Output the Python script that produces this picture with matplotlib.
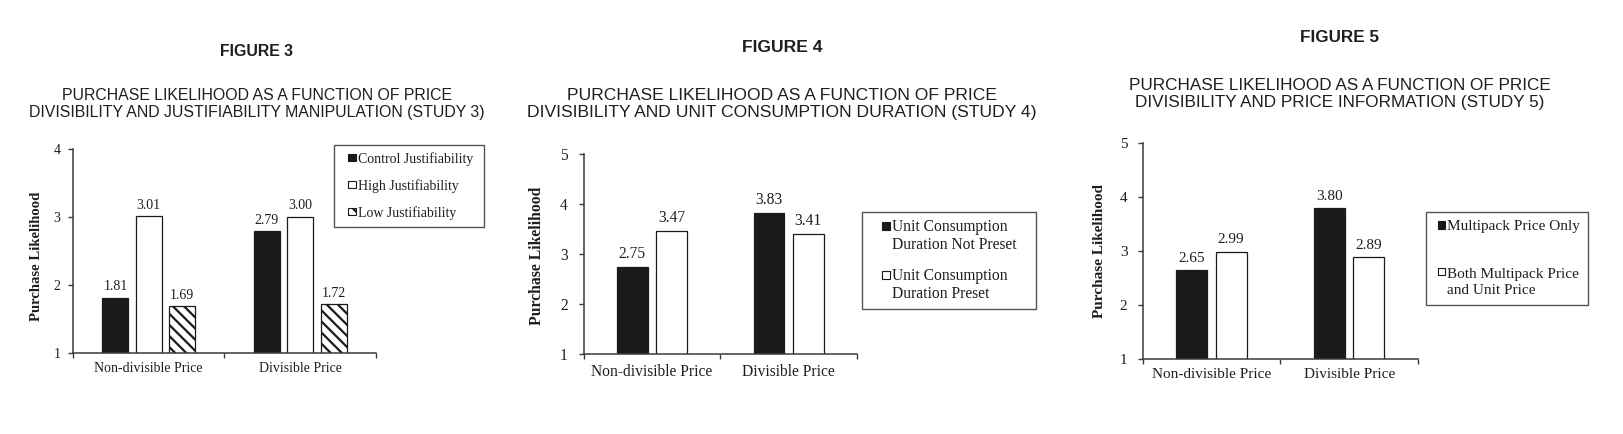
import matplotlib
matplotlib.use("Agg")
import matplotlib.pyplot as plt
from matplotlib.patches import Patch, Rectangle
from matplotlib.legend_handler import HandlerPatch
import numpy as np

W, H = 1624, 434
DPI = 100

# ---------------- data ----------------
categories = ["Non-divisible Price", "Divisible Price"]

fig3_series = ["Control Justifiability", "High Justifiability", "Low Justifiability"]
fig3_control = [1.81, 2.79]
fig3_high = [3.01, 3.00]
fig3_low = [1.69, 1.72]

fig4_series = ["Unit Consumption\nDuration Not Preset", "Unit Consumption\nDuration Preset"]
fig4_not_preset = [2.75, 3.83]
fig4_preset = [3.47, 3.41]

fig5_series = ["Multipack Price Only", "Both Multipack Price\nand Unit Price"]
fig5_multipack = [2.65, 3.80]
fig5_both = [2.99, 2.89]

fig_labels = ["FIGURE 3", "FIGURE 4", "FIGURE 5"]
titles = [
    ["PURCHASE LIKELIHOOD AS A FUNCTION OF PRICE",
     "DIVISIBILITY AND JUSTIFIABILITY MANIPULATION (STUDY 3)"],
    ["PURCHASE LIKELIHOOD AS A FUNCTION OF PRICE",
     "DIVISIBILITY AND UNIT CONSUMPTION DURATION (STUDY 4)"],
    ["PURCHASE LIKELIHOOD AS A FUNCTION OF PRICE",
     "DIVISIBILITY AND PRICE INFORMATION (STUDY 5)"],
]
ylabel = "Purchase Likelihood"

# ---------------- helpers ----------------
SERIF = "Liberation Serif"
SANS = "Liberation Sans"
TXT = "#1e1e1e"
BLACK = "#1a1a1a"
SPINE = "#3a3a3a"

plt.rcParams["hatch.linewidth"] = 1.6
plt.rcParams["hatch.color"] = BLACK

fig = plt.figure(figsize=(W / DPI, H / DPI), dpi=DPI)
fig.patch.set_facecolor("white")


def fx(px):
    return px / W


def fy(py):
    return 1 - py / H


class SquareHandler(HandlerPatch):
    """Small square drawn at the right end of the handle box."""

    def __init__(self, size, shift=0.0):
        super().__init__()
        self.size = size
        self.shift = shift

    def create_artists(self, legend, orig_handle, xdescent, ydescent,
                       width, height, fontsize, trans):
        s = self.size
        x = -xdescent + width - s
        y = -ydescent + (height - s) / 2 + self.shift
        p = Rectangle((x, y), s, s)
        self.update_prop(p, orig_handle, legend)
        p.set_transform(trans)
        return [p]


def make_axes(x0, x1, ytop, ybot):
    return fig.add_axes([fx(x0), fy(ybot), (x1 - x0) / W, (ybot - ytop) / H])


def style_axes(ax, ymax, fs, ypad, xpad):
    ax.set_xlim(0, 2)
    ax.set_ylim(1, ymax)
    for s in ["top", "right"]:
        ax.spines[s].set_visible(False)
    for s in ["left", "bottom"]:
        ax.spines[s].set_color(SPINE)
        ax.spines[s].set_linewidth(1.1)
    ax.set_yticks(np.arange(1, ymax + 1))
    ax.set_yticklabels([str(v) for v in range(1, ymax + 1)], fontfamily=SERIF,
                       fontsize=fs, color=TXT)
    ax.tick_params(axis="y", direction="out", length=3.5, width=1.0,
                   color=SPINE, pad=ypad)
    ax.set_xticks([0, 1, 2])
    ax.set_xticklabels([])
    ax.tick_params(axis="x", which="major", direction="out", length=3.5,
                   width=1.0, color=SPINE)
    ax.set_xticks([0.5, 1.5], minor=True)
    ax.set_xticklabels(categories, minor=True, fontfamily=SERIF, fontsize=fs,
                       color=TXT)
    ax.tick_params(axis="x", which="minor", length=0, pad=xpad)
    ax.set_facecolor("none")


def bars(ax, values, offset, width, fc, hatch=None, fs=10, gap=5.5):
    x = np.array([0.5, 1.5]) + offset
    b = ax.bar(x, values, width, bottom=0, color=fc, edgecolor=BLACK,
               linewidth=0.9, hatch=hatch, zorder=2)
    for xi, v in zip(x, values):
        ax.annotate(f"{v:.2f}", (xi, v), xytext=(0, gap),
                    textcoords="offset points", ha="center", va="baseline",
                    fontfamily=SERIF, fontsize=fs, color=TXT)
    return b


def titles_block(cx, y_fig, y1, y2, fs, lab, lines):
    fig.text(fx(cx), fy(y_fig), lab, ha="center", va="center",
             fontfamily=SANS, fontweight="bold", fontsize=fs, color=TXT)
    fig.text(fx(cx), fy(y1), lines[0], ha="center", va="center",
             fontfamily=SANS, fontsize=fs, color=TXT)
    fig.text(fx(cx), fy(y2), lines[1], ha="center", va="center",
             fontfamily=SANS, fontsize=fs, color=TXT)


def make_legend(ax, handles, labels, box, fs, spacing, bpad, hlen, msize,
                shift, lsp=1.16):
    x0, x1, ytop = box
    hmap = {}
    for h, lab in zip(handles, labels):
        n = lab.count("\n")
        hmap[h] = SquareHandler(msize, shift * n)
    leg = ax.legend(handles, labels, loc="upper left",
                    bbox_to_anchor=(fx(x0), fy(ytop), (x1 - x0) / W, 0.0),
                    bbox_transform=fig.transFigure, mode="expand",
                    borderaxespad=0, frameon=True, fancybox=False,
                    framealpha=1, edgecolor="#555555",
                    prop={"family": SERIF, "size": fs},
                    handlelength=hlen, handleheight=0.7, handletextpad=0.15,
                    borderpad=bpad, labelspacing=spacing, handler_map=hmap)
    leg.get_frame().set_linewidth(1.0)
    for t in leg.get_texts():
        t.set_color(TXT)
        t.set_linespacing(lsp)
    return leg


def square(fc, hatch=None):
    return Patch(facecolor=fc, edgecolor=BLACK, linewidth=0.8, hatch=hatch)


# ---------------- Figure 3 ----------------
fs3 = 10
ax1 = make_axes(73, 376, 148.5, 353)
style_axes(ax1, 4, fs3, ypad=5.5, xpad=6.5)
bars(ax1, fig3_control, -0.22, 0.172, BLACK, fs=fs3, gap=5.3)
bars(ax1, fig3_high, 0.0, 0.172, "white", fs=fs3, gap=5.3)
bars(ax1, fig3_low, 0.22, 0.172, "white", hatch="\\\\\\", fs=fs3, gap=5.3)
h3 = [square(BLACK), square("white"), square("white", "\\\\\\")]
make_legend(ax1, h3, fig3_series, (334, 484, 145), fs3, 0.95, 0.5, 1.05,
            5.2, 0)
fig.text(fx(37), fy(256), ylabel, rotation=90, ha="center", va="center",
         fontfamily=SERIF, fontweight="bold", fontsize=10.6, color=TXT)
titles_block(256.5, 52, 95, 112, 11.4, fig_labels[0], titles[0])

# ---------------- Figure 4 ----------------
fs4 = 11.2
ax2 = make_axes(583.7, 857, 154, 354)
style_axes(ax2, 5, fs4, ypad=8, xpad=7.5)
bars(ax2, fig4_not_preset, -0.144, 0.225, BLACK, fs=fs4, gap=5.8)
bars(ax2, fig4_preset, 0.144, 0.225, "white", fs=fs4, gap=5.8)
h4 = [square(BLACK), square("white")]
make_legend(ax2, h4, fig4_series, (862, 1036, 212), fs4, 0.95, 0.45, 1.33,
            5.8, 7.3)
fig.text(fx(537), fy(256), ylabel, rotation=90, ha="center", va="center",
         fontfamily=SERIF, fontweight="bold", fontsize=11.3, color=TXT)
titles_block(782, 48, 95, 112, 12.6, fig_labels[1], titles[1])

# ---------------- Figure 5 ----------------
fs5 = 11
ax3 = make_axes(1142.7, 1418, 143, 359)
style_axes(ax3, 5, fs5, ypad=7.5, xpad=6.7)
bars(ax3, fig5_multipack, -0.142, 0.225, BLACK, fs=fs5, gap=5.8)
bars(ax3, fig5_both, 0.142, 0.225, "white", fs=fs5, gap=5.8)
h5 = [square(BLACK), square("white")]
make_legend(ax3, h5, fig5_series, (1426, 1588, 212), fs5, 2.3, 0.5, 0.74,
            5.2, 7.8, lsp=1.25)
fig.text(fx(1100), fy(251), ylabel, rotation=90, ha="center", va="center",
         fontfamily=SERIF, fontweight="bold", fontsize=11, color=TXT)
titles_block(1340, 38, 85, 102, 12.3, fig_labels[2], titles[2])

fig.savefig("out.png", dpi=DPI, facecolor="white")
